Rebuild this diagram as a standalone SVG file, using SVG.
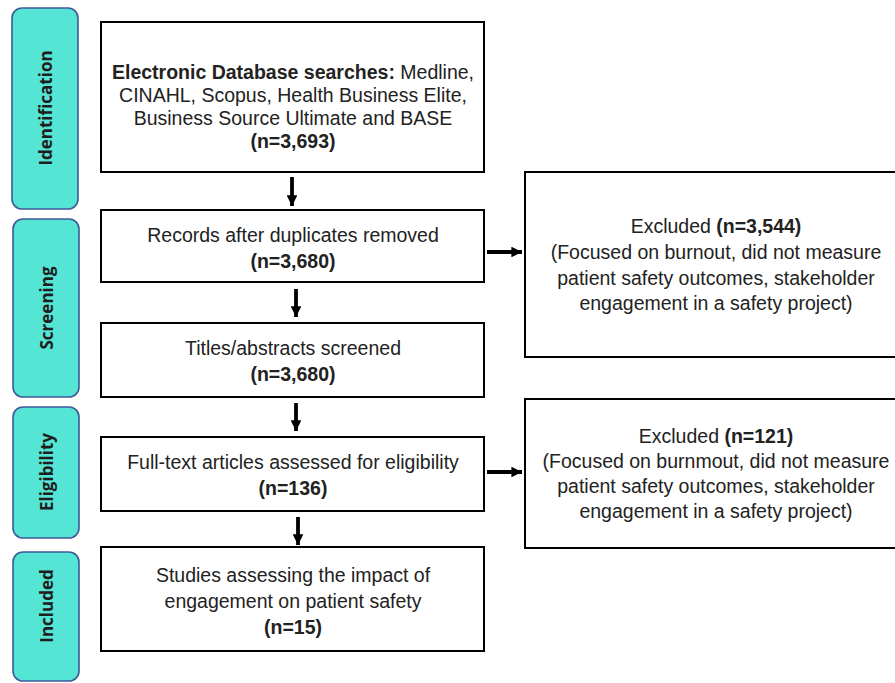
<svg xmlns="http://www.w3.org/2000/svg" width="895" height="683" viewBox="0 0 895 683">
<defs>
<style>
.stage rect{fill:#55E5D4;stroke:#3D5A98;stroke-width:1.6}
.stage text{font-family:"Open Sans","DejaVu Sans",sans-serif;font-weight:bold;font-size:17px;fill:#1e1e1e;text-anchor:middle;dominant-baseline:central}
.box{fill:#fff;stroke:#000;stroke-width:2}
.t{font-family:"Liberation Sans",Arial,sans-serif;font-size:19.5px;fill:#222;text-anchor:middle}
.b{font-weight:bold}
.conn line{stroke:#000;stroke-width:3.8}
</style>
<marker id="ah" viewBox="0 0 10 10" refX="10" refY="5" markerWidth="2.8" markerHeight="2.8" orient="auto" markerUnits="strokeWidth">
<path d="M0,0 L10,5 L0,10 Z" fill="#000"/>
</marker>
</defs>
<rect width="895" height="683" fill="#fff"/>

<g id="stage-identification" class="stage">
<rect x="12" y="8" width="66" height="201" rx="10"/>
<text transform="translate(45,108) rotate(-90)">Identification</text>
</g>
<g id="stage-screening" class="stage">
<rect x="13" y="219" width="66" height="178" rx="10"/>
<text transform="translate(46,308) rotate(-90)">Screening</text>
</g>
<g id="stage-eligibility" class="stage">
<rect x="13" y="407" width="66" height="131" rx="10"/>
<text transform="translate(46,472) rotate(-90)">Eligibility</text>
</g>
<g id="stage-included" class="stage">
<rect x="13" y="552" width="66" height="129" rx="10"/>
<text transform="translate(46,606) rotate(-90)">Included</text>
</g>

<g id="n-search">
<rect class="box" x="101" y="22" width="383" height="150"/>
<text class="t" x="293" y="79"><tspan class="b">Electronic Database searches:</tspan> Medline,</text>
<text class="t" x="293" y="102">CINAHL, Scopus, Health Business Elite,</text>
<text class="t" x="293" y="125">Business Source Ultimate and BASE</text>
<text class="t b" x="293" y="148">(n=3,693)</text>
</g>
<g id="n-dup">
<rect class="box" x="101" y="210" width="383" height="72"/>
<text class="t" x="293" y="242">Records after duplicates removed</text>
<text class="t b" x="293" y="268">(n=3,680)</text>
</g>
<g id="n-titles">
<rect class="box" x="101" y="323" width="383" height="74"/>
<text class="t" x="293" y="355">Titles/abstracts screened</text>
<text class="t b" x="293" y="381">(n=3,680)</text>
</g>
<g id="n-fulltext">
<rect class="box" x="101" y="437" width="383" height="74"/>
<text class="t" x="293" y="469">Full-text articles assessed for eligibility</text>
<text class="t b" x="293" y="495">(n=136)</text>
</g>
<g id="n-included">
<rect class="box" x="101" y="547" width="383" height="104"/>
<text class="t" x="293" y="582">Studies assessing the impact of</text>
<text class="t" x="293" y="608">engagement on patient safety</text>
<text class="t b" x="293" y="634">(n=15)</text>
</g>
<g id="n-excl1">
<rect class="box" x="525" y="172" width="385" height="185"/>
<text class="t" x="716" y="233">Excluded <tspan class="b">(n=3,544)</tspan></text>
<text class="t" x="716" y="259">(Focused on burnout, did not measure</text>
<text class="t" x="716" y="285">patient safety outcomes, stakeholder</text>
<text class="t" x="716" y="310">engagement in a safety project)</text>
</g>
<g id="n-excl2">
<rect class="box" x="525" y="399" width="385" height="149"/>
<text class="t" x="716" y="443">Excluded <tspan class="b">(n=121)</tspan></text>
<text class="t" x="716" y="468">(Focused on burnmout, did not measure</text>
<text class="t" x="716" y="493">patient safety outcomes, stakeholder</text>
<text class="t" x="716" y="518">engagement in a safety project)</text>
</g>

<g id="connectors" class="conn">
<line x1="292" y1="177" x2="292" y2="206" marker-end="url(#ah)"/>
<line x1="296" y1="289" x2="296" y2="317" marker-end="url(#ah)"/>
<line x1="296" y1="403" x2="296" y2="431" marker-end="url(#ah)"/>
<line x1="298" y1="517" x2="298" y2="545" marker-end="url(#ah)"/>
<line x1="487" y1="252" x2="522" y2="252" marker-end="url(#ah)"/>
<line x1="487" y1="472" x2="522" y2="472" marker-end="url(#ah)"/>
</g>
</svg>
